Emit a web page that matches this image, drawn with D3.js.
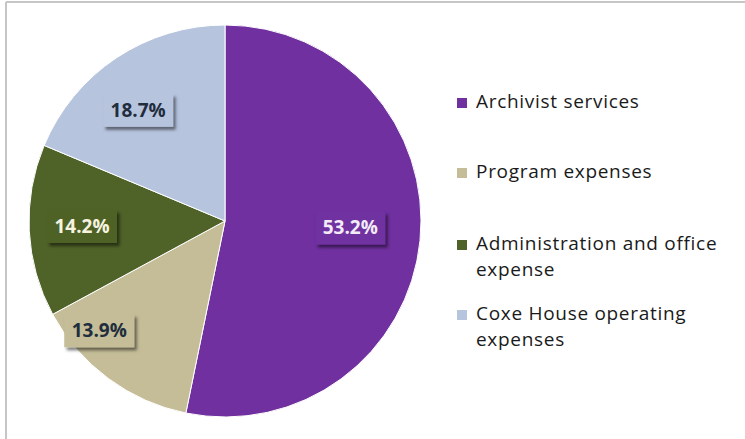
<!DOCTYPE html>
<html><head><meta charset="utf-8">
<script src="https://cdn.jsdelivr.net/npm/d3@7"></script>
<style>html,body{margin:0;padding:0;background:#fff;}svg{display:block;}</style>
</head><body>
<svg id="chart" width="745" height="439"></svg>
<script>
const categories = ["Archivist services", "Program expenses", "Administration and office expense", "Coxe House operating expenses"];
const legendLines = [["Archivist services"], ["Program expenses"], ["Administration and office", "expense"], ["Coxe House operating", "expenses"]];
const values = [53.2, 13.9, 14.2, 18.7];
const colors = ["#7030a0", "#c4bd97", "#4f6228", "#b7c4de"];
const labelColors = ["#f3ecf8", "#1f2d3d", "#f6f4e0", "#1f2d3d"];

// label placement (angle in degrees clockwise from 12 o'clock, radius fraction) — layout only
const labelAngle = [93, 229, 268, 322];
const labelRadius = [0.64, 0.85, 0.73, 0.72];

const svg = d3.select("#chart");
const defs = svg.append("defs");
const f = defs.append("filter").attr("id","sh").attr("x","-20%").attr("y","-20%").attr("width","150%").attr("height","160%");
f.append("feDropShadow").attr("dx",2.5).attr("dy",3).attr("stdDeviation",1.6).attr("flood-color","#000").attr("flood-opacity",0.5);

// frame
svg.append("line").attr("x1",6).attr("y1",2).attr("x2",745).attr("y2",2).attr("stroke","#c6c6c6").attr("stroke-width",2);
svg.append("line").attr("x1",6).attr("y1",2).attr("x2",6).attr("y2",439).attr("stroke","#c6c6c6").attr("stroke-width",2);

const cx = 225, cy = 221, r = 196;
const pie = d3.pie().sort(null).value(d => d);
const arcs = pie(values);
const arc = d3.arc().innerRadius(0).outerRadius(r);
const g = svg.append("g").attr("transform",`translate(${cx},${cy})`);
g.selectAll("path").data(arcs).join("path")
  .attr("d", arc).attr("fill",(d,i)=>colors[i])
  .attr("stroke","#fff").attr("stroke-width",1);

const lbl = g.selectAll("g.lbl").data(arcs).join("g").attr("class","lbl")
  .attr("transform", (d,i) => {
    const a = labelAngle[i] * Math.PI / 180, rr = labelRadius[i] * r;
    return `translate(${rr*Math.sin(a)},${-rr*Math.cos(a)})`;
  });
lbl.append("rect").attr("x",-35).attr("y",-16).attr("width",70).attr("height",33)
  .attr("fill",(d,i)=>colors[i]).attr("filter","url(#sh)");
lbl.append("text").attr("text-anchor","middle").attr("dy","0.36em")
  .attr("font-family","'Open Sans', 'Liberation Sans', sans-serif").attr("font-weight","bold").attr("font-size",19)
  .attr("fill",(d,i)=>labelColors[i]).text(d => d.data.toFixed(1) + "%");

// legend
const legendBase = [108, 178, 250, 320];
const lg = svg.append("g");
categories.forEach((c,i) => {
  lg.append("rect").attr("x",457).attr("y",legendBase[i]-10).attr("width",10).attr("height",10).attr("fill",colors[i]);
  const t = lg.append("text").attr("x",476).attr("y",legendBase[i])
    .attr("font-family","'Open Sans', 'Liberation Sans', sans-serif").attr("font-size",19)
    .attr("letter-spacing",0.7).attr("fill","#1a1a1a");
  legendLines[i].forEach((l,j) => t.append("tspan").attr("x",476).attr("dy", j===0 ? 0 : 26).text(l));
});
</script>
</body></html>
